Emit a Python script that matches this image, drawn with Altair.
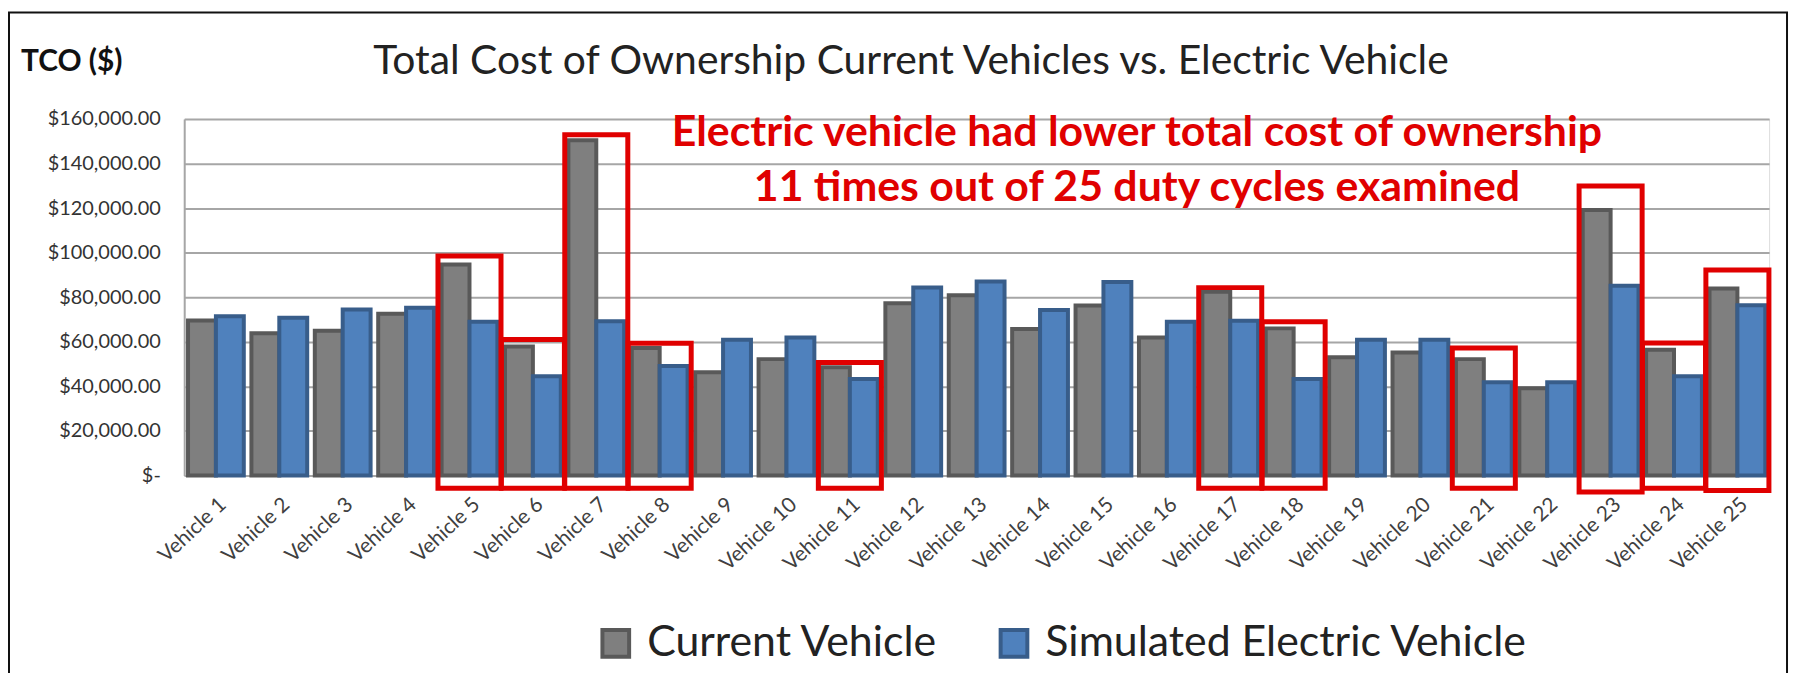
import altair as alt
import pandas as pd

vehicles = ["Vehicle 1", "Vehicle 2", "Vehicle 3", "Vehicle 4", "Vehicle 5",
            "Vehicle 6", "Vehicle 7", "Vehicle 8", "Vehicle 9", "Vehicle 10",
            "Vehicle 11", "Vehicle 12", "Vehicle 13", "Vehicle 14", "Vehicle 15",
            "Vehicle 16", "Vehicle 17", "Vehicle 18", "Vehicle 19", "Vehicle 20",
            "Vehicle 21", "Vehicle 22", "Vehicle 23", "Vehicle 24", "Vehicle 25"]
current = [69500, 63800, 64900, 72600, 94700, 57900, 150500, 57200, 46300, 52200,
           48500, 77300, 80900, 65700, 76300, 61900, 82400, 66000, 53000, 55200,
           52200, 39100, 119100, 56400, 83900]
electric = [71400, 70800, 74500, 75300, 69000, 44500, 69200, 49100, 60900, 61900,
            43300, 84300, 87000, 74300, 86800, 69000, 69400, 43300, 60900, 60900,
            41800, 41800, 85100, 44500, 76400]
series = ["Current Vehicle", "Simulated Electric Vehicle"]

box_vehicles = ["Vehicle 5", "Vehicle 6", "Vehicle 7", "Vehicle 8", "Vehicle 11",
                "Vehicle 17", "Vehicle 18", "Vehicle 21", "Vehicle 23", "Vehicle 24",
                "Vehicle 25"]
box_top = [98500, 61000, 152900, 59300, 50700, 84300, 69000, 57200, 129900, 59400, 92200]
box_bottom = [-5800, -5800, -5800, -5800, -5800, -5800, -5800, -5800, -7500, -5800, -6800]

title_text = "Total Cost of Ownership Current Vehicles vs. Electric Vehicle"
yaxis_text = "TCO ($)"
note_lines = ["Electric vehicle had lower total cost of ownership",
              "11 times out of 25 duty cycles examined"]

rows = []
for v, c, e in zip(vehicles, current, electric):
    rows.append({"vehicle": v, "series": series[0], "value": c})
    rows.append({"vehicle": v, "series": series[1], "value": e})
df = pd.DataFrame(rows)
boxes = pd.DataFrame({"vehicle": box_vehicles, "top": box_top, "bottom": box_bottom})

FONT = "Lato"
W, H = 1592, 358

xscale = alt.Scale(domain=vehicles, paddingInner=0.12, paddingOuter=0.06)
yscale = alt.Scale(domain=[0, 160000])

x_enc = alt.X("vehicle:N", scale=xscale, sort=vehicles, title=None,
              axis=alt.Axis(labelAngle=-43, labelFontSize=21, labelFont=FONT,
                            labelColor="#404040", labelPadding=18, tickSize=0,
                            domainColor="#a6a6a6", domainWidth=2, labelOverlap=False))

bars = alt.Chart(df).mark_bar(strokeWidth=4).encode(
    x=x_enc,
    xOffset=alt.XOffset("series:N", sort=series),
    y=alt.Y("value:Q", scale=yscale, stack=None, title=None,
            axis=alt.Axis(values=[0, 20000, 40000, 60000, 80000, 100000, 120000, 140000, 160000],
                          labelExpr="datum.value == 0 ? '$-\u00a0\u00a0\u00a0' : '$' + format(datum.value, ',.2f')",
                          labelFontSize=20, labelFont=FONT, labelColor="#333333",
                          labelPadding=24, tickSize=0, gridColor="#a6a6a6", gridWidth=2,
                          domainColor="#a6a6a6", domainWidth=2)),
    color=alt.Color("series:N", sort=series,
                    scale=alt.Scale(domain=series, range=["#7f7f7f", "#4f81bd"]),
                    legend=alt.Legend(title=None, orient="none", legendX=412, legendY=505,
                                      direction="horizontal", symbolType="square",
                                      symbolSize=720, symbolStrokeWidth=4,
                                      labelFontSize=43, labelFont=FONT, labelColor="#222222",
                                      labelLimit=0, columnPadding=55, labelOffset=10, padding=0)),
    stroke=alt.Stroke("series:N", sort=series,
                      scale=alt.Scale(domain=series, range=["#595959", "#385d8a"]),
                      legend=None),
)

box_layer = alt.Chart(boxes).mark_bar(
    fill="transparent", stroke="#e00000", strokeWidth=5,
    width=alt.RelativeBandSize(1.13)
).encode(
    x=alt.X("vehicle:N", scale=xscale, sort=vehicles),
    y=alt.Y("top:Q", scale=yscale),
    y2="bottom:Q",
)

title_mark = alt.Chart(pd.DataFrame({"t": [title_text]})).mark_text(
    font=FONT, fontSize=41, color="#222222", align="center", baseline="middle"
).encode(text="t:N", x=alt.value(730), y=alt.value(-57))

tco_mark = alt.Chart(pd.DataFrame({"t": [yaxis_text]})).mark_text(
    font=FONT, fontSize=30, fontWeight="bold", color="#111111", align="left", baseline="middle"
).encode(text="t:N", x=alt.value(-164), y=alt.value(-57))

note1 = alt.Chart(pd.DataFrame({"t": [note_lines[0]]})).mark_text(
    font=FONT, fontSize=43, fontWeight="bold", color="#e00000", align="center", baseline="middle"
).encode(text="t:N", x=alt.value(957), y=alt.value(14))

note2 = alt.Chart(pd.DataFrame({"t": [note_lines[1]]})).mark_text(
    font=FONT, fontSize=43, fontWeight="bold", color="#e00000", align="center", baseline="middle"
).encode(text="t:N", x=alt.value(957), y=alt.value(69))

frame = alt.Chart(pd.DataFrame({"f": [1]})).mark_rect(
    filled=False, stroke="#111111", strokeWidth=2
).encode(x=alt.value(-176), x2=alt.value(1610), y=alt.value(-107), y2=alt.value(570))

chart = alt.layer(bars, box_layer, title_mark, tco_mark, note1, note2, frame).properties(
    width=W, height=H,
    autosize=alt.AutoSizeParams(type="none"),
    padding={"left": 177, "top": 110, "right": 22, "bottom": 197},
).configure_view(stroke=None).configure(background="white")

chart.save("out.html", embed_options={"renderer": "svg", "actions": False})
